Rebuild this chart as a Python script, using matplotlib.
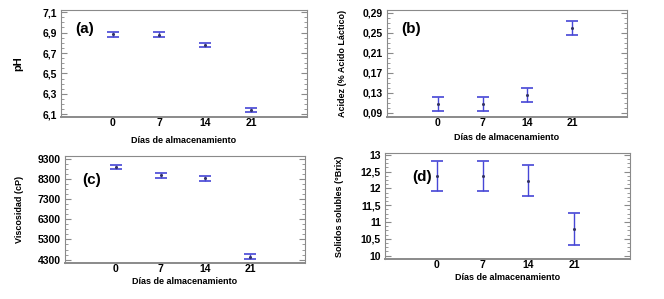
import numpy as np
import matplotlib.pyplot as plt
from matplotlib.ticker import AutoMinorLocator, FixedLocator

plt.rcParams['font.family'] = ['Liberation Sans', 'DejaVu Sans']

# Data
dias = ['0', '7', '14', '21']
ph_mean = [6.883, 6.880, 6.777, 6.143]
ph_err = [0.025, 0.025, 0.022, 0.022]
acid_mean = [0.108, 0.108, 0.125, 0.259]
acid_err = [0.014, 0.014, 0.014, 0.014]
visc_mean = [8900, 8500, 8340, 4440]
visc_err = [120, 120, 120, 120]
sol_mean = [12.36, 12.36, 12.23, 10.80]
sol_err = [0.45, 0.45, 0.47, 0.47]

W, H = 664, 299
fig = plt.figure(figsize=(W / 100, H / 100), dpi=100)


def px_axes(x0, y0, x1, y1):
    return fig.add_axes([x0 / W, 1 - y1 / H, (x1 - x0) / W, (y1 - y0) / H])


col = '#4646d6'
frame = '#8a8a8a'


def panel(box, mean, err, ylim, yticks, ylabels, ylabel, ylfs, tag, tagpos, ylab_x, xlab_y):
    ax = px_axes(*box)
    x = np.arange(len(dias))
    ax.errorbar(x, mean, yerr=err, fmt='o', ms=1.2, color='#333366', ecolor=col,
                elinewidth=1.0, capsize=4, capthick=1.2, mec='#333366')
    ax.set_xlim(-1.13, 4.22)
    ax.set_ylim(*ylim)
    ax.set_xticks(x)
    ax.set_xticklabels(dias, fontsize=7.5, fontweight='bold')
    ax.yaxis.set_major_locator(FixedLocator(yticks))
    ax.set_yticklabels(ylabels, fontsize=7.5, fontweight='bold')
    ax.yaxis.set_minor_locator(AutoMinorLocator(4))
    ax.tick_params(axis='x', length=0, pad=1)
    ax.tick_params(axis='y', which='both', direction='in', right=True, left=True,
                   color=frame, pad=3)
    ax.tick_params(axis='y', which='major', length=4)
    ax.tick_params(axis='y', which='minor', length=2)
    for s in ax.spines.values():
        s.set_color(frame)
        s.set_linewidth(0.8)
    ax.spines['bottom'].set_linewidth(1.4)
    ax.set_ylabel(ylabel, fontsize=ylfs, fontweight='bold')
    ax.yaxis.set_label_coords((ylab_x - box[0]) / (box[2] - box[0]), 0.5)
    ax.set_xlabel('Días de almacenamiento', fontsize=6.5, fontweight='bold')
    ax.xaxis.set_label_coords(0.5, -(xlab_y - box[3]) / (box[3] - box[1]))
    ax.text((tagpos[0] - box[0]) / (box[2] - box[0]),
            1 - (tagpos[1] - box[1]) / (box[3] - box[1]),
            tag, transform=ax.transAxes, fontsize=11, fontweight='bold',
            ha='left', va='center')
    return ax


panel((61, 10, 307, 117), ph_mean, ph_err, (6.075, 7.12),
      [6.1, 6.3, 6.5, 6.7, 6.9, 7.1], ['6,1', '6,3', '6,5', '6,7', '6,9', '7,1'],
      'pH', 8, '(a)', (75, 29), 23, 136)

panel((387, 10, 627, 117), acid_mean, acid_err, (0.082, 0.295),
      [0.09, 0.13, 0.17, 0.21, 0.25, 0.29],
      ['0,09', '0,13', '0,17', '0,21', '0,25', '0,29'],
      'Acidez (% Acido Láctico)', 6.5, '(b)', (401, 29), 347, 133)

panel((65, 156, 305, 263), visc_mean, visc_err, (4130, 9450),
      [4300, 5300, 6300, 7300, 8300, 9300],
      ['4300', '5300', '6300', '7300', '8300', '9300'],
      'Viscosidad (cP)', 6.5, '(c)', (82, 180), 24, 277)

panel((385, 153, 630, 259), sol_mean, sol_err, (9.9, 13.05),
      [10, 10.5, 11, 11.5, 12, 12.5, 13],
      ['10', '10,5', '11', '11,5', '12', '12,5', '13'],
      'Solidos solubles (°Brix)', 6.5, '(d)', (412, 177), 344, 273)

fig.savefig('out.png', dpi=100)
